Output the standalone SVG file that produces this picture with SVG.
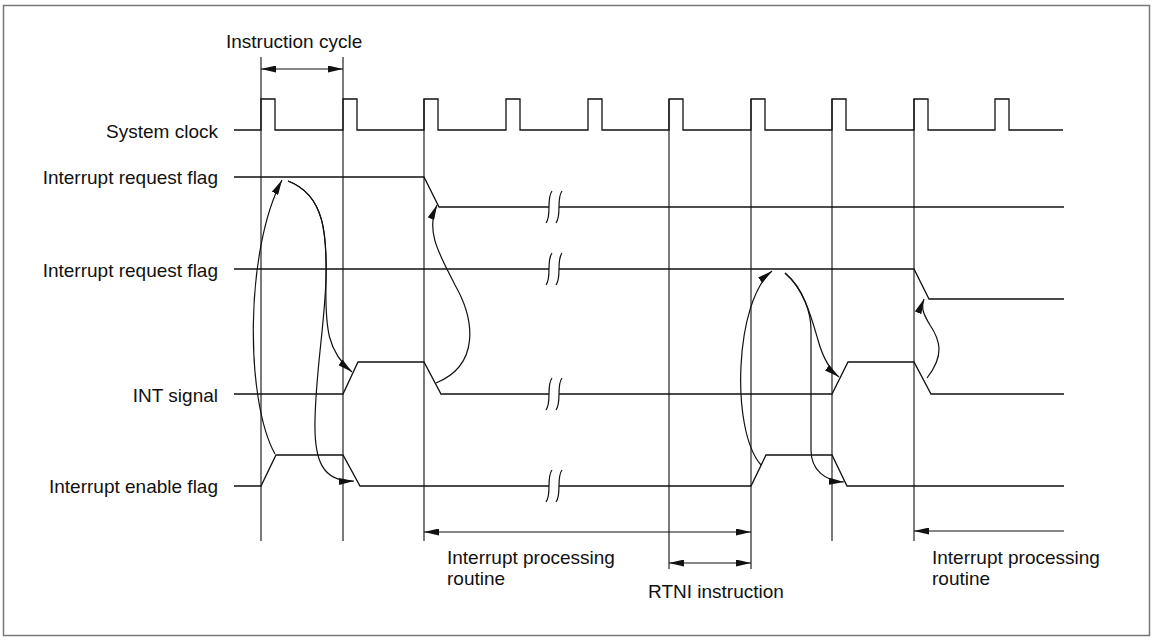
<svg xmlns="http://www.w3.org/2000/svg" width="1154" height="641" viewBox="0 0 1154 641">
<style>
  text { font-family: "Liberation Sans", Arial, sans-serif; font-size: 19px; fill: #111; }
  .lbl { text-anchor: end; }
  .sig { fill: none; stroke: #111; stroke-width: 1.3; stroke-linejoin: miter; }
  .grid { fill: none; stroke: #222; stroke-width: 1.2; }
  .brk { fill: none; stroke: #111; stroke-width: 1.2; }
  .arr { fill: none; stroke: #111; stroke-width: 1.2; }
</style>
<defs>
  <marker id="ah" viewBox="0 0 15 7" refX="15" refY="3.5" markerWidth="15" markerHeight="7" markerUnits="userSpaceOnUse" orient="auto-start-reverse">
    <path d="M0,0 L15,3.5 L0,7 z" fill="#111"/>
  </marker>
</defs>
<rect x="3.5" y="5.5" width="1146" height="630" fill="#fff" stroke="#777" stroke-width="1.5"/>

<g id="timing-grid">
  <line class="grid" x1="261" y1="57" x2="261" y2="541"/>
  <line class="grid" x1="343" y1="57" x2="343" y2="541"/>
  <line class="grid" x1="424" y1="99" x2="424" y2="541"/>
  <line class="grid" x1="669" y1="99" x2="669" y2="569"/>
  <line class="grid" x1="751" y1="99" x2="751" y2="569"/>
  <line class="grid" x1="832" y1="99" x2="832" y2="541"/>
  <line class="grid" x1="914" y1="99" x2="914" y2="541"/>
</g>

<g id="instruction-cycle">
  <text x="226" y="48">Instruction cycle</text>
  <line class="arr" x1="261" y1="69" x2="343" y2="69" marker-start="url(#ah)" marker-end="url(#ah)"/>
</g>

<g id="system-clock">
  <text class="lbl" x="218" y="138">System clock</text>
  <path class="sig" d="M234,130 H261 V99 H275 V130 H343 V99 H357 V130 H424 V99 H438 V130 H506 V99 H520 V130 H588 V99 H602 V130 H669 V99 H683 V130 H751 V99 H765 V130 H832 V99 H846 V130 H914 V99 H928 V130 H995 V99 H1009 V130 H1063"/>
</g>

<g id="irq-flag-1">
  <text class="lbl" x="218" y="184">Interrupt request flag</text>
  <path class="sig" d="M234,177 H424 L439,207 H549"/>
  <path class="sig" d="M559,207 H1064"/>
  <path class="brk" d="M552,191 C546,199 552,215 546,223 M562,191 C556,199 562,215 556,223"/>
</g>

<g id="irq-flag-2">
  <text class="lbl" x="218" y="277">Interrupt request flag</text>
  <path class="sig" d="M234,269 H549"/>
  <path class="sig" d="M559,269 H914 L929,299 H1064"/>
  <path class="brk" d="M552,253 C546,261 552,277 546,285 M562,253 C556,261 562,277 556,285"/>
</g>

<g id="int-signal">
  <text class="lbl" x="218" y="402">INT signal</text>
  <path class="sig" d="M234,394 H343 L358,362 H424 L441,394 H549"/>
  <path class="sig" d="M559,394 H832 L848,362 H914 L931,394 H1064"/>
  <path class="brk" d="M552,378 C546,386 552,402 546,410 M562,378 C556,386 562,402 556,410"/>
</g>

<g id="int-enable-flag">
  <text class="lbl" x="218" y="493">Interrupt enable flag</text>
  <path class="sig" d="M234,486 H261 L276,455 H343 L360,486 H549"/>
  <path class="sig" d="M559,486 H751 L766,455 H832 L847,486 H1064"/>
  <path class="brk" d="M552,470 C546,478 552,494 546,502 M562,470 C556,478 562,494 556,502"/>
</g>

<g id="interrupt-routine-1">
  <line class="arr" x1="424" y1="532" x2="751" y2="532" marker-start="url(#ah)" marker-end="url(#ah)"/>
  <text x="447" y="564">Interrupt processing</text>
  <text x="447" y="585">routine</text>
</g>

<g id="rtni-instruction">
  <line class="arr" x1="669" y1="563" x2="751" y2="563" marker-start="url(#ah)" marker-end="url(#ah)"/>
  <text x="648" y="598">RTNI instruction</text>
</g>

<g id="interrupt-routine-2">
  <line class="arr" x1="1064" y1="531" x2="914" y2="531" marker-end="url(#ah)"/>
  <text x="932" y="564">Interrupt processing</text>
  <text x="932" y="585">routine</text>
</g>

<g id="connectors">
  <path class="arr" d="M275,454 C245,400 245,250 282,180" marker-end="url(#ah)"/>
  <path class="arr" d="M288,181 C325,195 327,235 326,280 C325,330 328,352 352,372" marker-end="url(#ah)"/>
  <path class="arr" d="M288,181 C325,195 327,235 326,280 C324,330 316,370 315,420 C314,460 322,482 354,481" marker-end="url(#ah)"/>
  <path class="arr" d="M436,383 C480,365 475,320 455,285 C440,255 425,232 437,205" marker-end="url(#ah)"/>
  <path class="arr" d="M761,465 C730,430 735,300 772,271" marker-end="url(#ah)"/>
  <path class="arr" d="M785,273 C805,290 812,320 818,340 C823,358 830,370 839,377" marker-end="url(#ah)"/>
  <path class="arr" d="M785,273 C805,290 811,315 811,330 L811,450 C811,470 825,481 844,482" marker-end="url(#ah)"/>
  <path class="arr" d="M927,378 C945,355 940,340 930,325 C922,312 921,306 924,299" marker-end="url(#ah)"/>
</g>
</svg>
